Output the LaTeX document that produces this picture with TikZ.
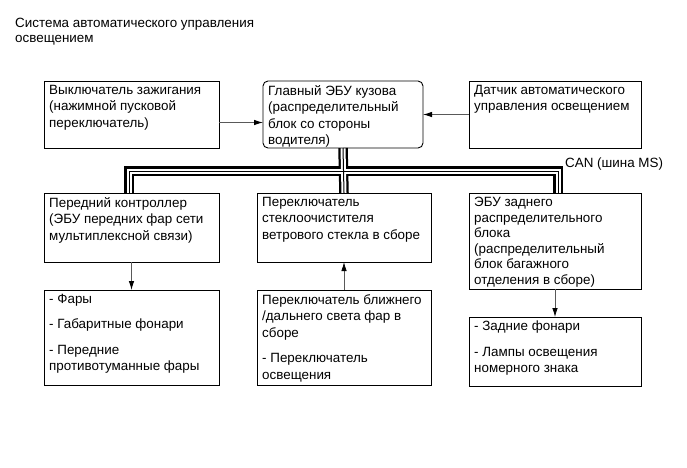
\documentclass[tikz,border=0pt]{standalone}
\usepackage{fontspec}
\setmainfont{Liberation Sans}
\usetikzlibrary{arrows.meta,backgrounds,calc}
\begin{document}
\begin{tikzpicture}[x=1pt,y=-1pt,
  box/.style={draw=black, line width=0.9pt, anchor=north west, inner sep=0pt, outer sep=0pt},
  txt/.style={anchor=north west, inner sep=0pt, align=left, font=\fontsize{13.4}{16.5}\selectfont},
  arr/.style={draw=black!65, line width=0.8pt, -{Latex[length=9pt,width=5.5pt,color=black]}}]
\useasboundingbox (0,0) rectangle (687,467);

\node[txt, font=\fontsize{13.4}{14.5}\selectfont] (title) at (15,18) {Система автоматического управления\\освещением};

% top row
\node[box, minimum width=175pt, minimum height=67pt] (ign) at (44,81) {};
\node[box, rounded corners=5pt, minimum width=160pt, minimum height=67pt] (ecu) at (263,81) {};
\node[box, minimum width=172pt, minimum height=67pt] (sen) at (469,81) {};
% middle row
\node[box, minimum width=175pt, minimum height=69pt] (fc) at (44,193) {};
\node[box, minimum width=174pt, minimum height=69pt] (wip) at (257,193) {};
\node[box, minimum width=172pt, minimum height=96pt] (rear) at (469,193) {};
% bottom row
\node[box, minimum width=175pt, minimum height=95pt] (lamps) at (44,290) {};
\node[box, minimum width=174pt, minimum height=95pt] (hsw) at (257,290) {};
\node[box, minimum width=172pt, minimum height=69pt] (rlamps) at (469,317) {};

% texts
\node[txt] (t1) at ([shift={(5,4)}]ign.north west) {Выключатель зажигания\\(нажимной пусковой\\переключатель)};
\node[txt] (t2) at ([shift={(5,4)}]ecu.north west) {Главный ЭБУ кузова\\(распределительный\\блок со стороны\\водителя)};
\node[txt] (t3) at ([shift={(5,4)}]sen.north west) {Датчик автоматического\\управления освещением};
\node[txt] (t4) at ([shift={(5,4)}]fc.north west) {Передний контроллер\\(ЭБУ передних фар сети\\мультиплексной связи)};
\node[txt] (t5) at ([shift={(5,4)}]wip.north west) {Переключатель\\стеклоочистителя\\ветрового стекла в сборе};
\node[txt, font=\fontsize{13.4}{15.5}\selectfont] (t6) at ([shift={(5,4)}]rear.north west) {ЭБУ заднего\\распределительного\\блока\\(распределительный\\блок багажного\\отделения в сборе)};
\node[txt] (t7) at ([shift={(5,4)}]lamps.north west) {- Фары\\[9pt]- Габаритные фонари\\[9pt]- Передние\\противотуманные фары};
\node[txt] (t8) at ([shift={(5,4)}]hsw.north west) {Переключатель ближнего\\/дальнего света фар в\\сборе\\[9pt]- Переключатель\\освещения};
\node[txt] (t9) at ([shift={(5,4)}]rlamps.north west) {- Задние фонари\\[9pt]- Лампы освещения\\номерного знака};

\node[anchor=west, inner sep=0pt, font=\fontsize{13.4}{16}\selectfont] (can) at (565,164) {CAN (шина MS)};

% arrows
\draw[arr] ([yshift=-8pt]ign.east) -- ([yshift=-8pt]ign.east -| ecu.west);
\draw[arr] (sen.west) -- (sen.west -| ecu.east);
\draw[arr] (fc.south) -- (lamps.north);
\draw[arr] (hsw.north) -- (wip.south);
\draw[arr] (rear.south) -- (rlamps.north);

% CAN bus
\coordinate (jl) at (129,171);
\coordinate (jr) at (558,171);
\begin{pgfonlayer}{background}
\fill[white] (0,0) rectangle (687,467);
\foreach \w/\c in {9.5/black,5/white,1/black}{
  \draw[line width=\w pt, draw=\c] (fc.north -| jl) -- (jl) -- (jr) -- (rear.north -| jr);
  \draw[line width=\w pt, draw=\c] (ecu.south) -- (wip.north);
}
\end{pgfonlayer}
\end{tikzpicture}
\end{document}
